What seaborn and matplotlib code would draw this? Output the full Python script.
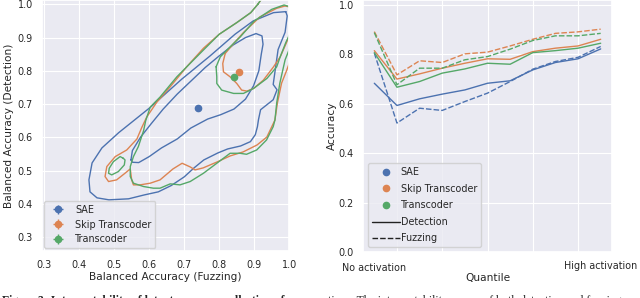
import pandas as pd
import matplotlib.pyplot as plt
import seaborn as sns
from matplotlib.lines import Line2D

# ============ right panel: accuracy per activation quantile ============
quantiles = list(range(11))
sae_det = [0.683, 0.593, 0.620, 0.639, 0.656, 0.683, 0.693, 0.737, 0.767, 0.782, 0.822]
sae_fuz = [0.805, 0.522, 0.582, 0.573, 0.609, 0.643, 0.690, 0.740, 0.771, 0.788, 0.832]
skip_det = [0.815, 0.700, 0.721, 0.744, 0.764, 0.782, 0.780, 0.811, 0.825, 0.834, 0.861]
skip_fuz = [0.892, 0.717, 0.774, 0.767, 0.802, 0.809, 0.834, 0.861, 0.885, 0.891, 0.902]
tc_det = [0.807, 0.667, 0.690, 0.724, 0.741, 0.764, 0.760, 0.807, 0.815, 0.825, 0.845]
tc_fuz = [0.888, 0.677, 0.744, 0.744, 0.778, 0.791, 0.821, 0.856, 0.875, 0.875, 0.885]

models = ["SAE", "Skip Transcoder", "Transcoder"]

# ============ left panel: mean scores (fuzzing, detection) ============
mean_fuz = [0.738, 0.857, 0.843]
mean_det = [0.688, 0.797, 0.782]
mean_err = [0.004, 0.004, 0.004]

# ============ left panel: kde contour outlines ============
sae_outer_x = [0.990, 0.955, 0.897, 0.845, 0.774, 0.693, 0.603, 0.513, 0.465, 0.437, 0.428, 0.431,
               0.451, 0.485, 0.541, 0.587, 0.626, 0.663, 0.700, 0.728, 0.756, 0.796, 0.824, 0.861,
               0.889, 0.903, 0.909, 0.912, 0.918, 0.954, 0.965, 0.954, 0.960, 0.968, 0.988, 0.994, 0.990]
sae_outer_y = [0.978, 0.975, 0.950, 0.910, 0.845, 0.775, 0.690, 0.614, 0.568, 0.523, 0.472, 0.436,
               0.418, 0.412, 0.415, 0.427, 0.436, 0.455, 0.481, 0.508, 0.532, 0.553, 0.565, 0.574,
               0.587, 0.608, 0.632, 0.653, 0.683, 0.713, 0.743, 0.759, 0.804, 0.864, 0.916, 0.965, 0.978]
sae_inner_x = [0.548, 0.552, 0.575, 0.605, 0.640, 0.680, 0.720, 0.760, 0.800, 0.840, 0.875, 0.905,
               0.922, 0.925, 0.920, 0.913, 0.898, 0.875, 0.842, 0.804, 0.767, 0.719, 0.680, 0.635,
               0.600, 0.570, 0.552, 0.548]
sae_inner_y = [0.532, 0.560, 0.600, 0.640, 0.685, 0.730, 0.770, 0.810, 0.845, 0.878, 0.900, 0.912,
               0.905, 0.880, 0.850, 0.800, 0.755, 0.715, 0.685, 0.668, 0.655, 0.628, 0.595, 0.568,
               0.542, 0.524, 0.525, 0.532]
skip_outer_x = [0.910, 0.890, 0.850, 0.800, 0.755, 0.707, 0.660, 0.622, 0.593, 0.579, 0.565, 0.536,
                0.503, 0.479, 0.474, 0.484, 0.507, 0.531, 0.546, 0.550, 0.555, 0.574, 0.603, 0.631,
                0.668, 0.694, 0.717, 0.731, 0.754, 0.794, 0.831, 0.868, 0.908, 0.936, 0.959, 0.966,
                0.978, 0.992, 1.000, 1.030, 1.030, 0.930, 0.910]
skip_outer_y = [1.000, 0.975, 0.945, 0.910, 0.868, 0.812, 0.752, 0.706, 0.661, 0.630, 0.595, 0.562,
                0.542, 0.512, 0.482, 0.467, 0.472, 0.492, 0.505, 0.472, 0.457, 0.457, 0.462, 0.472,
                0.505, 0.522, 0.511, 0.502, 0.508, 0.526, 0.544, 0.556, 0.577, 0.601, 0.652, 0.703,
                0.763, 0.800, 0.823, 0.900, 1.030, 1.030, 1.000]
skip_inner_x = [0.817, 0.810, 0.812, 0.831, 0.850, 0.864, 0.879, 0.898, 0.926, 0.955, 0.974, 0.990,
                1.010, 1.010, 0.988, 0.964, 0.916, 0.869, 0.841, 0.817]
skip_inner_y = [0.852, 0.822, 0.797, 0.782, 0.762, 0.742, 0.739, 0.747, 0.772, 0.812, 0.842, 0.880,
                0.930, 0.990, 0.995, 0.988, 0.962, 0.915, 0.882, 0.852]
tc_outer_x = [0.910, 0.890, 0.850, 0.800, 0.760, 0.726, 0.679, 0.631, 0.603, 0.590, 0.584, 0.569,
              0.555, 0.546, 0.546, 0.555, 0.584, 0.612, 0.631, 0.660, 0.688, 0.717, 0.755, 0.793,
              0.831, 0.859, 0.878, 0.907, 0.935, 0.954, 0.959, 0.964, 0.973, 0.988, 1.000, 1.030,
              1.030, 0.930, 0.910]
tc_outer_y = [1.000, 0.975, 0.945, 0.910, 0.868, 0.832, 0.782, 0.721, 0.691, 0.650, 0.620, 0.572,
              0.542, 0.512, 0.482, 0.462, 0.452, 0.447, 0.447, 0.460, 0.457, 0.467, 0.492, 0.522,
              0.552, 0.552, 0.549, 0.562, 0.592, 0.632, 0.652, 0.703, 0.763, 0.833, 0.865, 0.930,
              1.030, 1.030, 1.000]
tc_inner_x = [0.791, 0.793, 0.793, 0.807, 0.841, 0.869, 0.898, 0.936, 0.964, 0.974, 0.990, 1.010,
              1.010, 0.985, 0.950, 0.900, 0.860, 0.831, 0.803, 0.791]
tc_inner_y = [0.812, 0.782, 0.762, 0.742, 0.732, 0.732, 0.747, 0.777, 0.812, 0.842, 0.885, 0.930,
              0.990, 0.998, 0.985, 0.950, 0.902, 0.872, 0.842, 0.812]
tc_small_x = [0.526, 0.517, 0.498, 0.486, 0.484, 0.493, 0.512, 0.529, 0.531, 0.526]
tc_small_y = [0.537, 0.542, 0.527, 0.507, 0.492, 0.487, 0.497, 0.517, 0.532, 0.537]

# ============ estilo ============
sns.set_theme(context="notebook", style="darkgrid", font_scale=0.63,
              rc={"lines.linewidth": 1.0, "grid.linewidth": 0.8,
                  "xtick.major.size": 0, "ytick.major.size": 0,
                  "xtick.major.pad": 7.0, "ytick.major.pad": 6.5,
                  "axes.labelpad": 3.0})
colors = sns.color_palette("deep")

fig = plt.figure(figsize=(6.4, 2.98), dpi=100)
ax1 = fig.add_axes([42 / 640, 1 - 250.7 / 298, 247.3 / 640, 250.7 / 298])
ax2 = fig.add_axes([363 / 640, 1 - 252 / 298, 249 / 640, 252 / 298])

# ============ left: contours + means ============
contours = [
    (sae_outer_x, sae_outer_y, 0), (sae_inner_x, sae_inner_y, 0),
    (skip_outer_x, skip_outer_y, 1), (skip_inner_x, skip_inner_y, 1),
    (tc_outer_x, tc_outer_y, 2), (tc_inner_x, tc_inner_y, 2),
    (tc_small_x, tc_small_y, 2),
]
for xs, ys, c in contours:
    ax1.plot(xs, ys, color=colors[c], lw=1.0, solid_joinstyle="round")

for i, name in enumerate(models):
    ax1.errorbar(mean_fuz[i], mean_det[i], xerr=mean_err[i], yerr=mean_err[i],
                 fmt="o", color=colors[i], ms=4.5, elinewidth=1.0, label=name, zorder=5)

ax1.set_xlim(0.294, 1.0)
ax1.set_ylim(0.259, 1.013)
ax1.set_xticks([0.3, 0.4, 0.5, 0.6, 0.7, 0.8, 0.9, 1.0])
ax1.set_yticks([0.3, 0.4, 0.5, 0.6, 0.7, 0.8, 0.9, 1.0])
ax1.set_xlabel("Balanced Accuracy (Fuzzing)", labelpad=1.0)
ax1.set_ylabel("Balanced Accuracy (Detection)")
ax1.legend(loc="lower left", bbox_to_anchor=(0.0, 0.0), borderaxespad=0.25)

# ============ right: lines ============
rows = []
for name, det, fuz in zip(models, [sae_det, skip_det, tc_det], [sae_fuz, skip_fuz, tc_fuz]):
    for q, d, f in zip(quantiles, det, fuz):
        rows.append({"quantile": q, "accuracy": d, "model": name, "metric": "Detection"})
        rows.append({"quantile": q, "accuracy": f, "model": name, "metric": "Fuzzing"})
df = pd.DataFrame(rows)

sns.lineplot(data=df, x="quantile", y="accuracy", hue="model", style="metric",
             hue_order=models, style_order=["Detection", "Fuzzing"],
             palette=colors[:3], dashes={"Detection": "", "Fuzzing": (4, 1.5)},
             lw=1.0, ax=ax2, legend=False)

ax2.set_xlim(-0.5, 10.5)
ax2.set_ylim(0.0, 1.02)
ax2.set_yticks([0.0, 0.2, 0.4, 0.6, 0.8, 1.0])
ax2.set_xticks([1, 3, 5, 7, 9], labels=[""] * 5)
ax2.text(0, -0.063, "No activation", transform=ax2.get_xaxis_transform(),
         ha="center", va="center", fontsize=6.93)
ax2.text(10, -0.056, "High activation", transform=ax2.get_xaxis_transform(),
         ha="center", va="center", fontsize=6.93)
ax2.set_xlabel("Quantile")
ax2.xaxis.set_label_coords(0.5, -0.082)
ax2.set_ylabel("Accuracy", labelpad=1.5)

# legend: three model dots in a box, then the two line styles below them
dot_handles = [Line2D([], [], marker="o", ls="", color=colors[i], ms=4.5) for i in range(3)]
blank = [Line2D([], [], ls="", marker="") for _ in range(2)]
leg1 = ax2.legend(dot_handles + blank, models + [" ", " "], loc="lower left",
                  borderaxespad=0.5, handlelength=2.9, handletextpad=0.1, labelspacing=0.68)
ax2.add_artist(leg1)
style_handles = [Line2D([], [], color="#222222", lw=1.0),
                 Line2D([], [], color="#222222", lw=1.0, dashes=(4, 1.5))]
ax2.legend(style_handles, ["Detection", "Fuzzing"], loc="lower left", frameon=False,
           borderaxespad=0.5, handlelength=2.9, handletextpad=0.1, labelspacing=0.65)

# ============ caption (cut off in the source) ============
fig.text(0.003, 0.009, "Figure 3: Interpretability of latents across a collection of",
         fontsize=8.5, fontweight="bold", family="Liberation Serif", va="top")
fig.text(0.512, 0.009, "tions. The interpretability scores of both detection and fuzzing",
         fontsize=8.5, family="Liberation Serif", va="top")

fig.savefig("out.png", dpi=100)
